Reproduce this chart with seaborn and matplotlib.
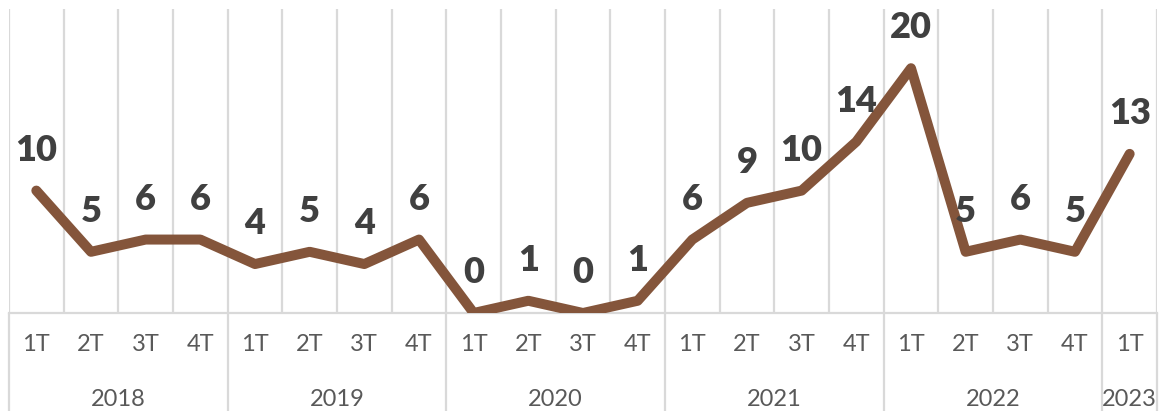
import matplotlib
matplotlib.use("Agg")
import matplotlib.pyplot as plt
import seaborn as sns
import pandas as pd

quarters = ["1T", "2T", "3T", "4T"] * 5 + ["1T"]
years = ["2018", "2019", "2020", "2021", "2022", "2023"]
year_sizes = [4, 4, 4, 4, 4, 1]
values = [10, 5, 6, 6, 4, 5, 4, 6, 0, 1, 0, 1, 6, 9, 10, 14, 20, 5, 6, 5, 13]

sns.set_style("white")
plt.rcParams["font.family"] = ["Lato", "DejaVu Sans"]

LINE = "#84553B"
GRID = "#D9D9D9"
LABEL = "#404040"
TICK = "#595959"

df = pd.DataFrame({"pos": range(len(values)), "value": values})

W, H = 1160, 411
fig = plt.figure(figsize=(W / 100, H / 100), dpi=100)
left, right, top, bottom = 9, 1157, 7, 313
ax = fig.add_axes([left / W, (H - bottom) / H, (right - left) / W, (bottom - top) / H])

n = len(values)
ax.set_xlim(-0.5, n - 0.5)
ax.set_ylim(0, 25)

# vertical gridlines at every category boundary
xt = ax.get_xaxis_transform()
bounds = [i - 0.5 for i in range(n + 1)]
ax.vlines(bounds, 0, 0.993, transform=xt, color=GRID, lw=1.6, zorder=0)

# year separators extending below the axis
cum = [-0.5]
for s in year_sizes:
    cum.append(cum[-1] + s)
sep_depth = (H - bottom) / (bottom - top)
ax.vlines(cum, -sep_depth, 0, transform=xt, color=GRID, lw=1.6, clip_on=False, zorder=0)

sns.lineplot(data=df, x="pos", y="value", ax=ax, color=LINE, linewidth=7.2,
             solid_capstyle="round", solid_joinstyle="round", zorder=3)

for i, v in enumerate(values):
    ax.annotate(str(v), (i, v), xytext=(0, 21.5), textcoords="offset points",
                ha="center", va="baseline", fontsize=26, fontweight="heavy",
                color=LABEL, zorder=4)

for sp in ["left", "right", "top"]:
    ax.spines[sp].set_visible(False)
ax.spines["bottom"].set_color(GRID)
ax.spines["bottom"].set_linewidth(1.6)

ax.set_yticks([])
ax.set_xticks(range(n))
ax.set_xticklabels(quarters, fontsize=17, color=TICK)
ax.tick_params(axis="x", length=0, pad=15)
ax.set_xlabel("")
ax.set_ylabel("")

# year labels
for j, y in enumerate(years):
    center = (cum[j] + cum[j + 1]) / 2
    ax.text(center, -(399 - bottom) / (bottom - top), y, transform=xt,
            ha="center", va="center", fontsize=17, color=TICK)

fig.savefig("out.png", dpi=100)
